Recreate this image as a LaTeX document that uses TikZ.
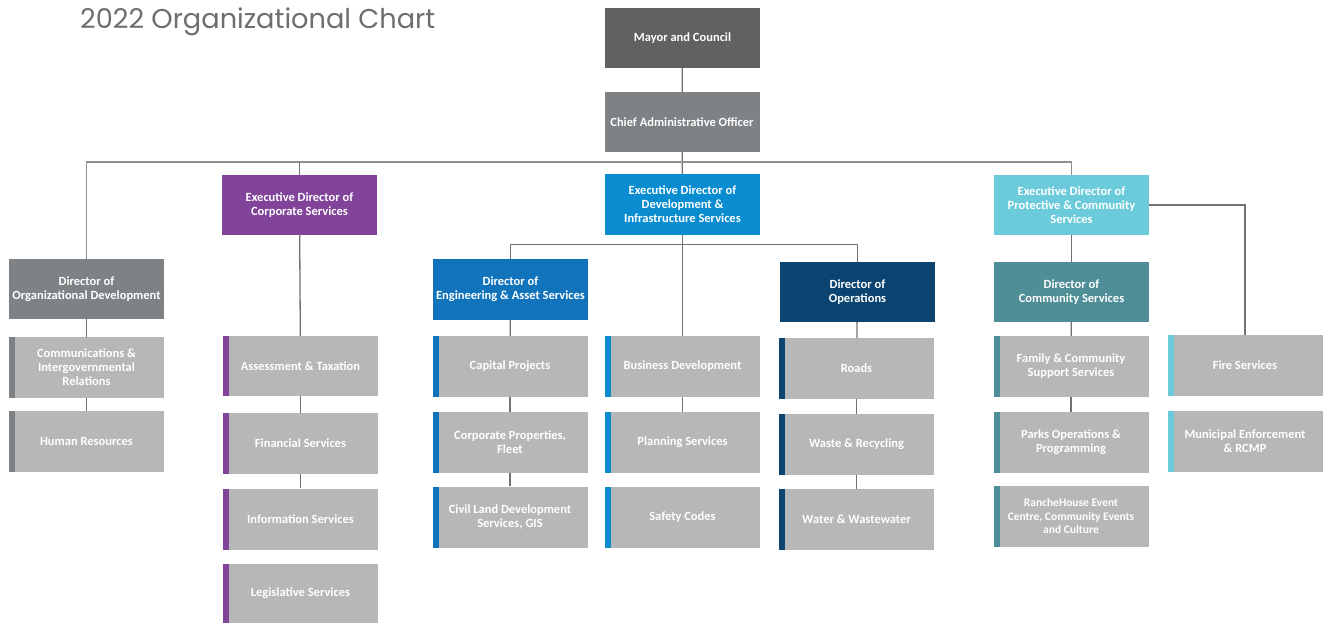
\documentclass[tikz,border=0pt]{standalone}
\usepackage{fontspec}
\setmainfont{Carlito}
\newfontfamily\titlefont{Poppins}
\definecolor{mayorgray}{HTML}{5F6163}
\definecolor{caogray}{HTML}{7E8285}
\definecolor{leafgray}{HTML}{B5B7B8}
\definecolor{corppurple}{HTML}{81449A}
\definecolor{devblue}{HTML}{0A8DD0}
\definecolor{protblue}{HTML}{6CCBDA}
\definecolor{engblue}{HTML}{1173BB}
\definecolor{opsblue}{HTML}{0B4470}
\definecolor{comteal}{HTML}{4F8E96}
\definecolor{linegray}{HTML}{707172}
\definecolor{bargray}{HTML}{8E8F90}
\definecolor{titlegray}{HTML}{6D6E70}
\begin{document}
\begin{tikzpicture}[x=1pt,y=-1pt,
  headbox/.style={fill=#1, text=white, minimum width=155pt, minimum height=60pt, inner sep=0pt, align=center, font=\bfseries\fontsize{12.5}{14}\selectfont},
  leaf/.style={fill=leafgray, text=white, minimum width=155pt, minimum height=61pt, inner sep=0pt, align=center, font=\bfseries\fontsize{12.5}{14}\selectfont,
    path picture={\fill[#1] (path picture bounding box.south west) rectangle ([xshift=6pt]path picture bounding box.north west);}},
  conn/.style={draw=linegray, line width=1.3pt}]
\useasboundingbox (0,0) rectangle (1325,623);
\node[anchor=base west, inner sep=0pt, text=titlegray, font=\titlefont\fontsize{27.2}{30}\selectfont] (title) at (80,29) {2022 Organizational Chart};
% heads
\node[headbox=mayorgray] (mayor) at (682.5,38) {Mayor and Council};
\node[headbox=caogray] (cao) at (682,122) {Chief Administrative Officer};
\node[headbox=corppurple] (edcorp) at (299.5,205) {Executive Director of\\Corporate Services};
\node[headbox=devblue, minimum height=61pt] (eddev) at (682.5,204.5) {Executive Director of\\Development \&\\Infrastructure Services};
\node[headbox=protblue] (edprot) at (1071.5,205) {Executive Director of\\Protective \& Community\\Services};
\node[headbox=caogray] (dorg) at (86.5,289) {Director of\\Organizational Development};
\node[headbox=engblue, minimum height=61pt] (deng) at (510.5,289.5) {Director of\\Engineering \& Asset Services};
\node[headbox=opsblue] (dops) at (857.5,292) {Director of\\Operations};
\node[headbox=comteal] (dcom) at (1071.5,292) {Director of\\Community Services};
% leaves
\node[leaf=caogray] (comm) at (86.5,367.5) {Communications \&\\Intergovernmental\\Relations};
\node[leaf=caogray] (hr) at (86.5,441.5) {Human Resources};
\node[leaf=corppurple, minimum height=60pt] (assess) at (300.5,366) {Assessment \& Taxation};
\node[leaf=corppurple] (fin) at (300.5,443.5) {Financial Services};
\node[leaf=corppurple] (info) at (300.5,519) {Information Services};
\node[leaf=corppurple, minimum height=59pt] (legis) at (300.5,593.5) {Legislative Services};
\node[leaf=engblue] (cap) at (510,366.5) {Capital Projects};
\node[leaf=engblue] (corpprop) at (510,442.5) {Corporate Properties,\\Fleet};
\node[leaf=engblue] (civil) at (510,517) {Civil Land Development\\Services, GIS};
\node[leaf=devblue] (bd) at (682.5,366.5) {Business Development};
\node[leaf=devblue] (plan) at (682.5,442.5) {Planning Services};
\node[leaf=devblue] (safety) at (682.5,517) {Safety Codes};
\node[leaf=opsblue] (roads) at (856.5,368.5) {Roads};
\node[leaf=opsblue] (waste) at (856.5,444.5) {Waste \& Recycling};
\node[leaf=opsblue] (water) at (856.5,519.5) {Water \& Wastewater};
\node[leaf=comteal] (family) at (1071,366.5) {Family \& Community\\Support Services};
\node[leaf=comteal] (parks) at (1071,442.5) {Parks Operations \&\\Programming};
\node[leaf=comteal, font=\bfseries\fontsize{11.5}{13.5}\selectfont] (ranche) at (1071,516.5) {RancheHouse Event\\Centre, Community Events\\and Culture};
\node[leaf=protblue] (fire) at (1245,365.5) {Fire Services};
\node[leaf=protblue] (muni) at (1245,441.5) {Municipal Enforcement\\\& RCMP};
% connectors
\coordinate (bar) at (85,162);
\draw[conn] (mayor) -- (cao);
\draw[conn] (cao) -- (eddev);
\draw[conn, draw=bargray] (dorg.north) -- (dorg.north |- bar) -- (edprot.north |- bar) -- (edprot.north);
\draw[conn] (edcorp.north) -- (edcorp.north |- bar);
\draw[conn] (edcorp) -- (assess);
\draw[conn] (assess) -- (fin);
\draw[conn] (fin) -- (info);
\draw[conn] (dorg) -- (comm);
\draw[conn] (comm) -- (hr);
\draw[conn] (eddev) -- (bd);
\draw[conn] (bd) -- (plan);
\draw[conn] (deng.north) -- ++(0,-14) -| (dops.north);
\draw[conn] (deng) -- (cap);
\draw[conn] (cap) -- (corpprop);
\draw[conn] (corpprop) -- (civil);
\draw[conn] (dops) -- (roads);
\draw[conn] (roads) -- (waste);
\draw[conn] (waste) -- (water);
\draw[conn] (edprot) -- (dcom);
\draw[conn] (dcom) -- (family);
\draw[conn] (family) -- (parks);
\draw[conn] (edprot.east) -| (fire.north);
\end{tikzpicture}
\end{document}
